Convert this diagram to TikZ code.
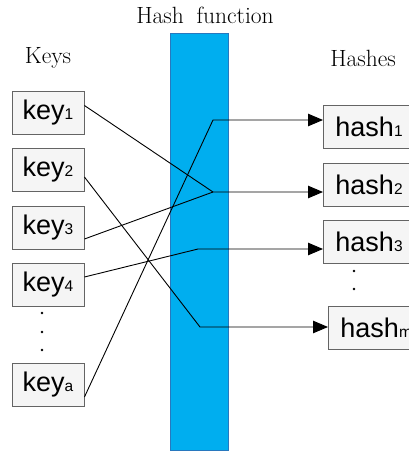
\documentclass[tikz,border=0pt]{standalone}
\usepackage{fontspec}
\newfontfamily\boxfont{Liberation Sans}
\usetikzlibrary{arrows.meta,calc}
\definecolor{hashblue}{RGB}{0,174,239}
\definecolor{hashedge}{RGB}{40,120,190}
\definecolor{boxfill}{RGB}{245,245,245}
\definecolor{boxedge}{RGB}{100,100,100}
\newcommand{\smidx}[1]{{\fontsize{15.5}{15.5}\selectfont #1}}
\tikzset{
  keybox/.style={draw=boxedge, fill=boxfill, line width=0.9pt, minimum width=72pt, minimum height=43pt, inner sep=0pt, font=\boxfont\fontsize{27}{27}\selectfont},
  hashbox/.style={draw=boxedge, fill=boxfill, line width=0.9pt, minimum height=43pt, inner ysep=0pt, inner xsep=12pt, anchor=west, font=\boxfont\fontsize{27}{27}\selectfont},
  heading/.style={anchor=base, font=\fontsize{23.5}{23.5}\selectfont, inner sep=0pt},
  link/.style={line width=0.9pt, black},
  arrowlink/.style={link, -{Triangle[length=15pt,width=12.5pt]}},
  dot/.style={fill=black, circle, inner sep=0pt, minimum size=2.8pt}
}
\begin{document}
\begin{tikzpicture}[x=1pt,y=-1pt]
\useasboundingbox (0,0) rectangle (409,453);
\begin{scope}
\clip (0,0) rectangle (409,453);
% hash function bar
\fill[hashblue, draw=hashedge, line width=0.8pt] (170,33) rectangle (228,450);
% headings
\node[heading] (title) at (205,23) {Hash\hspace{0.55em}function};
\node[heading] (keys) at (48,63) {Keys};
\node[heading] (hashes) at (363,66) {Hashes};
% dots
\node[dot] (kd1) at (42,313) {};
\node[dot] (kd2) at (42,332) {};
\node[dot] (kd3) at (42,350) {};
\node[dot] (hd1) at (354,271) {};
\node[dot] (hd2) at (354,289) {};
\node[dot] (hd3) at (354,308) {};
% key boxes
\node[keybox] (key1) at (48,112.5) {key\smidx{1}};
\node[keybox] (key2) at (48,169.5) {key\smidx{2}};
\node[keybox] (key3) at (48,227.5) {key\smidx{3}};
\node[keybox] (key4) at (48,284.5) {key\smidx{4}};
\node[keybox] (keya) at (48,385) {key\smidx{a}};
% hash boxes
\node[hashbox] (hash1) at (323,126.5) {hash\smidx{1}\hspace{40pt}};
\node[hashbox] (hash2) at (323,184.5) {hash\smidx{2}\hspace{40pt}};
\node[hashbox] (hash3) at (323,241.5) {hash\smidx{3}\hspace{40pt}};
\node[hashbox] (hashm) at (328,327.5) {hash\smidx{m}\hspace{40pt}};
% junctions
\coordinate (j1) at (213,120);
\coordinate (j2) at (213,192);
\coordinate (j3) at (198,249);
\coordinate (j4) at (200,327);
% connectors
\draw[arrowlink] ([yshift=-12pt]keya.east) -- (j1) -- (j1 -| hash1.west);
\draw[arrowlink] ([yshift=7pt]key1.east) -- (j2) -- (j2 -| hash2.west);
\draw[link] ([yshift=-11.5pt]key3.east) -- (j2);
\draw[arrowlink] ([yshift=7.5pt]key4.east) -- (j3) -- (j3 -| hash3.west);
\draw[arrowlink] ([yshift=-7.5pt]key2.east) -- (j4) -- (j4 -| hashm.west);
\end{scope}
\end{tikzpicture}
\end{document}
